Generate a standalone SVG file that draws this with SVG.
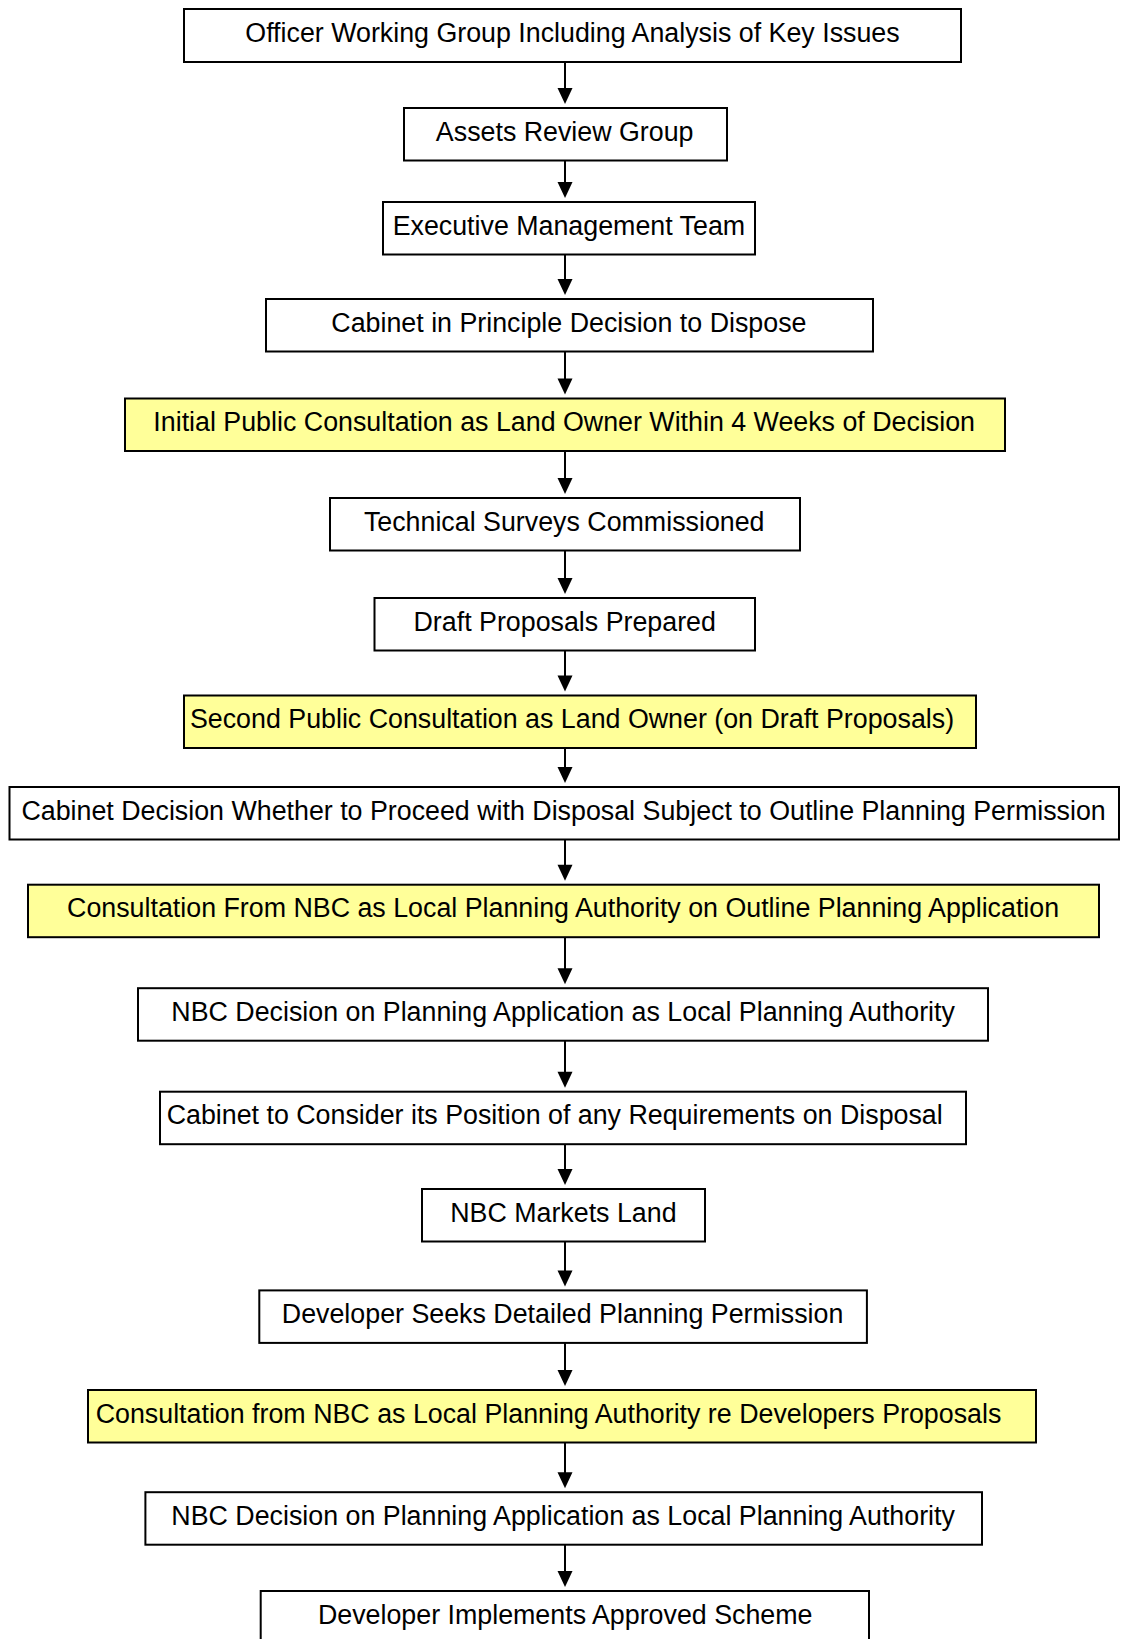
<svg xmlns="http://www.w3.org/2000/svg" width="1121" height="1639" viewBox="0 0 1121 1639">
<style>
.box{fill:#ffffff;stroke:#000;stroke-width:2}
.hl{fill:#ffff99;stroke:#000;stroke-width:2}
.t{font-family:"Liberation Sans",Arial,sans-serif;font-size:26.8px;fill:#000;text-anchor:middle}
.c{stroke:#000;stroke-width:2;fill:none}
.ah{fill:#000}
</style>
<rect width="1121" height="1639" fill="#fff"/>
<g id="connectors">
<line class="c" x1="565" y1="62" x2="565" y2="90"/><polygon class="ah" points="557.5,88 572.5,88 565,104"/>
<line class="c" x1="565" y1="160.5" x2="565" y2="184"/><polygon class="ah" points="557.5,182 572.5,182 565,198"/>
<line class="c" x1="565" y1="254.5" x2="565" y2="281"/><polygon class="ah" points="557.5,279 572.5,279 565,295"/>
<line class="c" x1="565" y1="351.5" x2="565" y2="380"/><polygon class="ah" points="557.5,378.5 572.5,378.5 565,394.5"/>
<line class="c" x1="565" y1="451" x2="565" y2="480"/><polygon class="ah" points="557.5,478 572.5,478 565,494"/>
<line class="c" x1="565" y1="550.5" x2="565" y2="580"/><polygon class="ah" points="557.5,578 572.5,578 565,594"/>
<line class="c" x1="565" y1="650.5" x2="565" y2="677"/><polygon class="ah" points="557.5,675.5 572.5,675.5 565,691.5"/>
<line class="c" x1="565" y1="748" x2="565" y2="769"/><polygon class="ah" points="557.5,767 572.5,767 565,783"/>
<line class="c" x1="565" y1="839.5" x2="565" y2="866"/><polygon class="ah" points="557.5,864.7 572.5,864.7 565,880.7"/>
<line class="c" x1="565" y1="937.2" x2="565" y2="970"/><polygon class="ah" points="557.5,968.2 572.5,968.2 565,984.2"/>
<line class="c" x1="565" y1="1040.7" x2="565" y2="1073"/><polygon class="ah" points="557.5,1071.7 572.5,1071.7 565,1087.7"/>
<line class="c" x1="565" y1="1144.2" x2="565" y2="1171"/><polygon class="ah" points="557.5,1169 572.5,1169 565,1185"/>
<line class="c" x1="565" y1="1241.5" x2="565" y2="1272"/><polygon class="ah" points="557.5,1270.4 572.5,1270.4 565,1286.4"/>
<line class="c" x1="565" y1="1342.9" x2="565" y2="1372"/><polygon class="ah" points="557.5,1370 572.5,1370 565,1386"/>
<line class="c" x1="565" y1="1442.5" x2="565" y2="1474"/><polygon class="ah" points="557.5,1472.2 572.5,1472.2 565,1488.2"/>
<line class="c" x1="565" y1="1544.7" x2="565" y2="1573"/><polygon class="ah" points="557.5,1571 572.5,1571 565,1587"/>
</g>
<g id="n1"><rect class="box" x="184" y="9" width="777" height="53"/><text class="t" x="572.5" y="41.5">Officer Working Group Including Analysis of Key Issues</text></g>
<g id="n2"><rect class="box" x="404" y="108" width="323" height="52.5"/><text class="t" x="564.7" y="140.5">Assets Review Group</text></g>
<g id="n3"><rect class="box" x="383" y="202" width="372" height="52.5"/><text class="t" x="568.9" y="234.5">Executive Management Team</text></g>
<g id="n4"><rect class="box" x="266" y="299" width="607" height="52.5"/><text class="t" x="568.9" y="331.5">Cabinet in Principle Decision to Dispose</text></g>
<g id="n5"><rect class="hl" x="125" y="398.5" width="880" height="52.5"/><text class="t" x="564.2" y="431">Initial Public Consultation as Land Owner Within 4 Weeks of Decision</text></g>
<g id="n6"><rect class="box" x="330" y="498" width="470" height="52.5"/><text class="t" x="564.2" y="530.5">Technical Surveys Commissioned</text></g>
<g id="n7"><rect class="box" x="374.5" y="598" width="380.5" height="52.5"/><text class="t" x="564.7" y="630.5">Draft Proposals Prepared</text></g>
<g id="n8"><rect class="hl" x="184" y="695.5" width="792" height="52.5"/><text class="t" x="572" y="728">Second Public Consultation as Land Owner (on Draft Proposals)</text></g>
<g id="n9"><rect class="box" x="9.5" y="787" width="1109.5" height="52.5"/><text class="t" x="563.6" y="819.5">Cabinet Decision Whether to Proceed with Disposal Subject to Outline Planning Permission</text></g>
<g id="n10"><rect class="hl" x="28" y="884.7" width="1071" height="52.5"/><text class="t" x="563.1" y="917.2">Consultation From NBC as Local Planning Authority on Outline Planning Application</text></g>
<g id="n11"><rect class="box" x="138" y="988.2" width="850" height="52.5"/><text class="t" x="563.1" y="1020.7">NBC Decision on Planning Application as Local Planning Authority</text></g>
<g id="n12"><rect class="box" x="160" y="1091.7" width="806" height="52.5"/><text class="t" x="554.7" y="1124.2">Cabinet to Consider its Position of any Requirements on Disposal</text></g>
<g id="n13"><rect class="box" x="422" y="1189" width="283" height="52.5"/><text class="t" x="563.4" y="1221.5">NBC Markets Land</text></g>
<g id="n14"><rect class="box" x="259.3" y="1290.4" width="607.6" height="52.5"/><text class="t" x="562.6" y="1322.9">Developer Seeks Detailed Planning Permission</text></g>
<g id="n15"><rect class="hl" x="88" y="1390" width="948" height="52.5"/><text class="t" x="548.5" y="1422.5">Consultation from NBC as Local Planning Authority re Developers Proposals</text></g>
<g id="n16"><rect class="box" x="145.4" y="1492.2" width="836.6" height="52.5"/><text class="t" x="563.1" y="1524.7">NBC Decision on Planning Application as Local Planning Authority</text></g>
<g id="n17"><rect class="box" x="260.7" y="1591" width="608.3" height="53"/><text class="t" x="565.2" y="1623.5">Developer Implements Approved Scheme</text></g>
</svg>
